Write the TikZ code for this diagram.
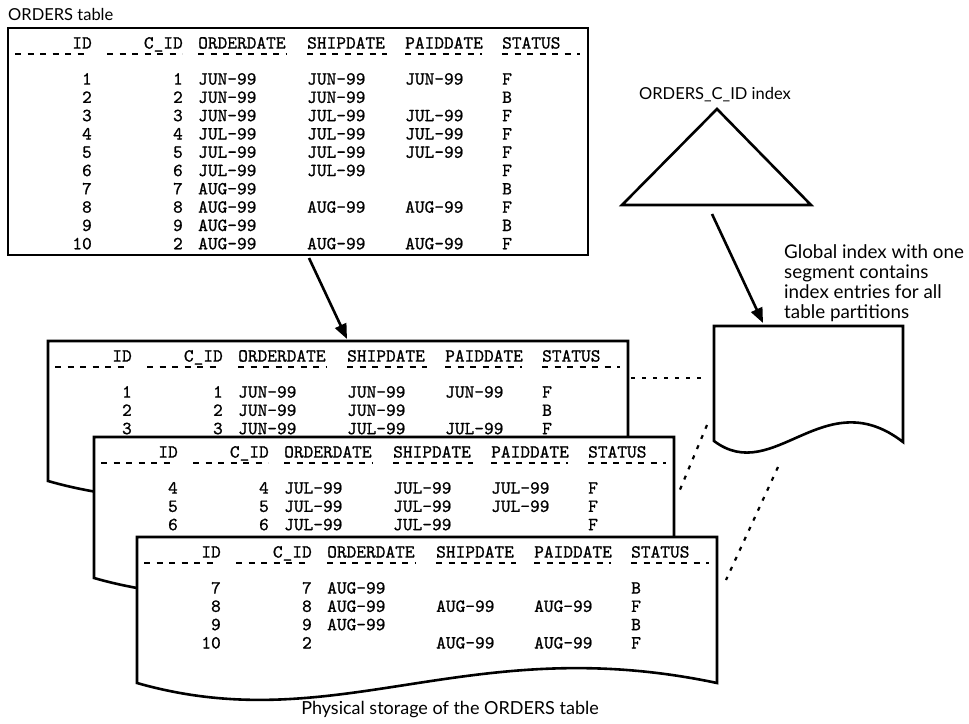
\documentclass[tikz,border=0pt]{standalone}
\usepackage{fontspec}
\newfontfamily\lblfont{Lato}
\newfontfamily\tabfam{lmmono10-regular.otf}[FakeBold=0.9]
\usetikzlibrary{arrows.meta}
\newcommand\tabfont{\tabfam\fontsize{18.5}{20}\selectfont}
\tikzset{
  cellR/.style={anchor=base east, inner sep=0pt, font=\tabfont},
  cellL/.style={anchor=base west, inner sep=0pt, font=\tabfont},
  box/.style={line width=2.6pt, line join=miter},
  tdash/.style={line width=2.8pt, dash pattern=on 6pt off 6.5pt},
  conn/.style={line width=2.2pt, dash pattern=on 4pt off 7pt},
  arr/.style={line width=2.6pt, -{Triangle[length=15pt,width=12pt]}},
  lbl/.style={inner sep=0pt, anchor=base west},
}
\newcommand\tabhead[1]{%
  \node[cellR] (#1-hid) at (84,20.6) {ID};
  \node[cellR] (#1-hcid) at (175,20.6) {C\_ID};
  \node[cellL] (#1-hod) at (190,20.6) {ORDERDATE};
  \node[cellL] (#1-hsd) at (299,20.6) {SHIPDATE};
  \node[cellL] (#1-hpd) at (397,20.6) {PAIDDATE};
  \node[cellL] (#1-hst) at (494,20.6) {STATUS};
  \foreach \a/\b in {7/80,99/174,190/279,299/379,397/474,494/572}
    \draw[tdash] (\a,26) -- (\b,26);}
\newcommand\tabrow[8]{%
  \pgfmathsetmacro\ry{56.6+18.3*(#2-1)}
  \node[cellR] (#1-#3-a) at (84,\ry) {#3};
  \node[cellR] (#1-#3-b) at (175,\ry) {#4};
  \node[cellL] (#1-#3-c) at (190,\ry) {#5};
  \node[cellL] (#1-#3-d) at (299,\ry) {#6};
  \node[cellL] (#1-#3-e) at (397,\ry) {#7};
  \node[cellL] (#1-#3-f) at (494,\ry) {#8};}
\newcommand\partshape[1]{%
  \filldraw[box, fill=white] (0,#1) -- (0,0) -- (580,0) -- (580,#1)
    .. controls (330,#1-53) and (200,#1+57) .. (0,#1) -- cycle;}
\begin{document}
\begin{tikzpicture}[x=1pt,y=-1pt]
\useasboundingbox (0,0) rectangle (969,723);
% top label
\node[lbl, font=\lblfont\fontsize{16.5}{20}\selectfont] (tlabel) at (8,20) {ORDERS table};
% top table
\begin{scope}[shift={(8,28)}]
  \draw[box] (0,0) rectangle (580,227);
  \tabhead{T}
  \tabrow{T}{1}{1}{1}{JUN-99}{JUN-99}{JUN-99}{F}
  \tabrow{T}{2}{2}{2}{JUN-99}{JUN-99}{}{B}
  \tabrow{T}{3}{3}{3}{JUN-99}{JUL-99}{JUL-99}{F}
  \tabrow{T}{4}{4}{4}{JUL-99}{JUL-99}{JUL-99}{F}
  \tabrow{T}{5}{5}{5}{JUL-99}{JUL-99}{JUL-99}{F}
  \tabrow{T}{6}{6}{6}{JUL-99}{JUL-99}{}{F}
  \tabrow{T}{7}{7}{7}{AUG-99}{}{}{B}
  \tabrow{T}{8}{8}{8}{AUG-99}{AUG-99}{AUG-99}{F}
  \tabrow{T}{9}{9}{9}{AUG-99}{}{}{B}
  \tabrow{T}{10}{10}{2}{AUG-99}{AUG-99}{AUG-99}{F}
  \coordinate (tarrow) at (301,230);
\end{scope}
% partition 1
\begin{scope}[shift={(48,341)}]
  \partshape{140}
  \tabhead{P1}
  \tabrow{P1}{1}{1}{1}{JUN-99}{JUN-99}{JUN-99}{F}
  \tabrow{P1}{2}{2}{2}{JUN-99}{JUN-99}{}{B}
  \tabrow{P1}{3}{3}{3}{JUN-99}{JUL-99}{JUL-99}{F}
  \coordinate (p1top) at (299,-2);
  \coordinate (p1right) at (583,37);
\end{scope}
% partition 2
\begin{scope}[shift={(94,437)}]
  \partshape{141}
  \tabhead{P2}
  \tabrow{P2}{1}{4}{4}{JUL-99}{JUL-99}{JUL-99}{F}
  \tabrow{P2}{2}{5}{5}{JUL-99}{JUL-99}{JUL-99}{F}
  \tabrow{P2}{3}{6}{6}{JUL-99}{JUL-99}{}{F}
  \coordinate (p2right) at (585,55);
\end{scope}
% partition 3
\begin{scope}[shift={(137,537)}]
  \partshape{146}
  \tabhead{P3}
  \tabrow{P3}{1}{7}{7}{AUG-99}{}{}{B}
  \tabrow{P3}{2}{8}{8}{AUG-99}{AUG-99}{AUG-99}{F}
  \tabrow{P3}{3}{9}{9}{AUG-99}{}{}{B}
  \tabrow{P3}{4}{10}{2}{}{AUG-99}{AUG-99}{F}
  \coordinate (p3right) at (589,43);
\end{scope}
% index segment (document shape)
\begin{scope}[shift={(714,326)}]
  \filldraw[box, fill=white] (0,115) -- (0,0) -- (189,0) -- (189,116)
    .. controls (110,55) and (60,160) .. (0,115) -- cycle;
  \coordinate (segtop) at (49,-3);
  \coordinate (segleft) at (-12,52);
  \coordinate (segbl) at (-7,99);
  \coordinate (segbot) at (64,141);
\end{scope}
% index triangle
\draw[box] (717,109) -- (811,205) -- (622,205) -- cycle;
\coordinate (tribot) at (712,214);
\node[inner sep=0pt, anchor=base, font=\lblfont\fontsize{16.5}{20}\selectfont] (ilabel) at (715,99) {ORDERS\_C\_ID index};
% arrows
\draw[arr] (tarrow) -- (p1top);
\draw[arr] (tribot) -- (segtop);
% dashed correspondences
\draw[conn] (p1right) -- (segleft);
\draw[conn] (segbl) -- (p2right);
\draw[conn] (segbot) -- (p3right);
% text labels
\begin{scope}[font=\lblfont\fontsize{18.8}{20}\selectfont]
  \node[lbl] (g1) at (784,258) {Global index with one};
  \node[lbl] (g2) at (784,278) {segment contains};
  \node[lbl] (g3) at (784,298) {index entries for all};
  \node[lbl] (g4) at (784,318) {table partitions};
\end{scope}
\node[inner sep=0pt, anchor=base, font=\lblfont\fontsize{18}{20}\selectfont] (plabel) at (450,714) {Physical storage of the ORDERS table};
\end{tikzpicture}
\end{document}
